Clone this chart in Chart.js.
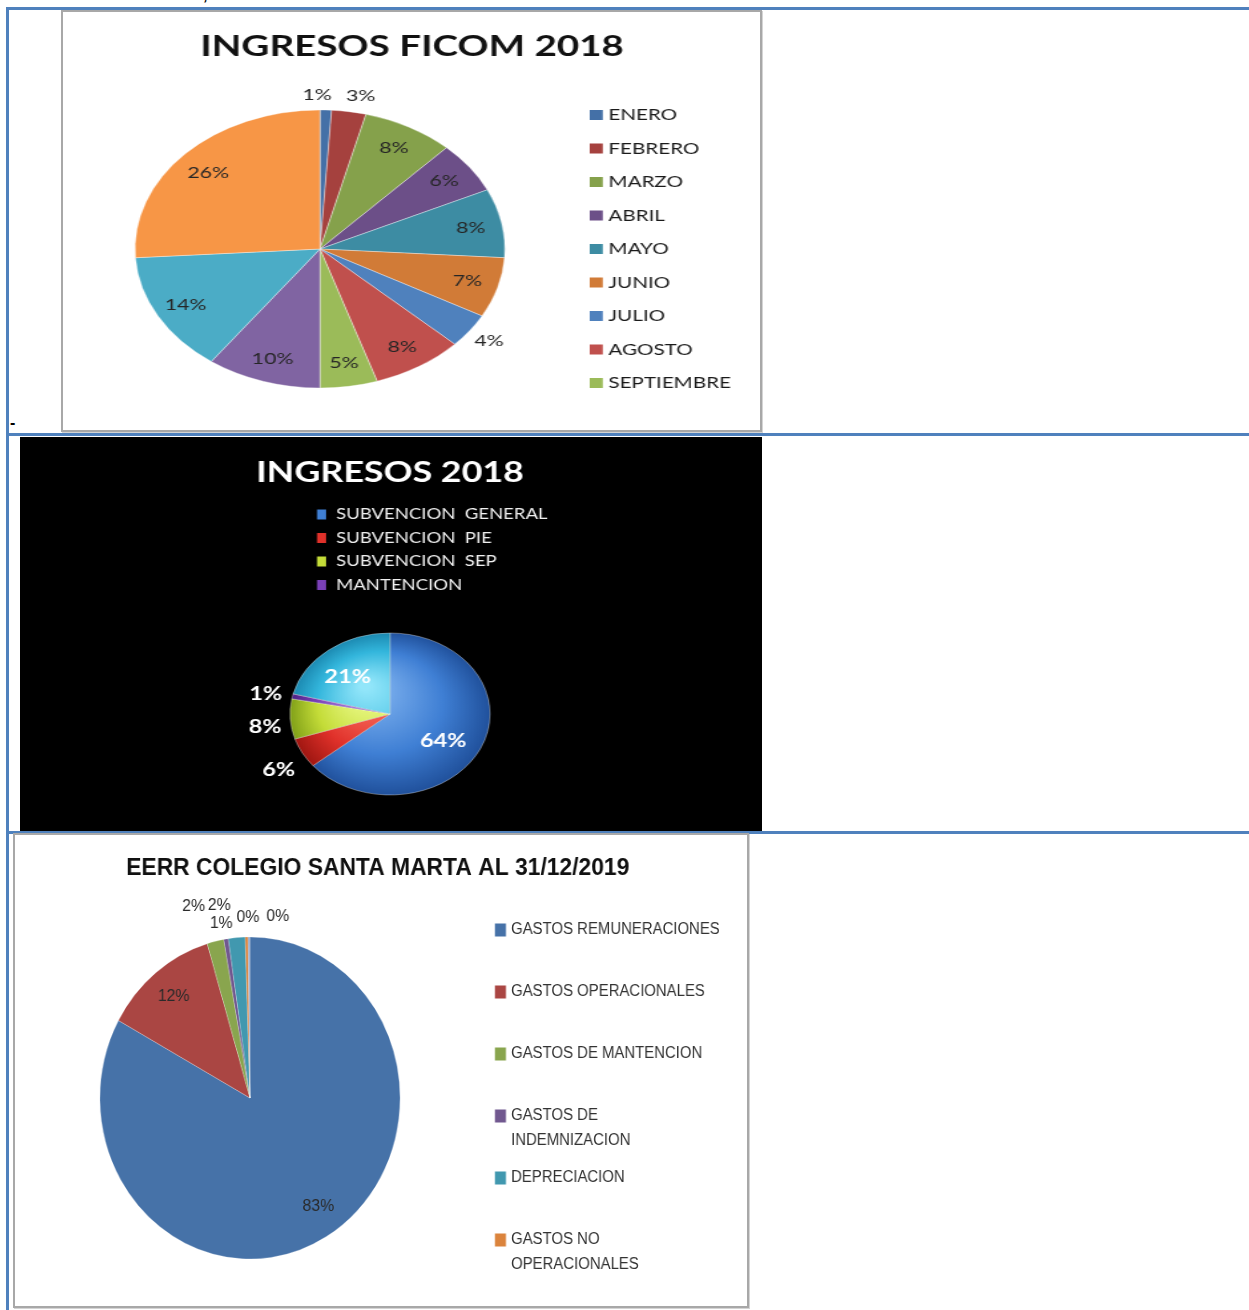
<!DOCTYPE html>
<html>
<head>
<meta charset="utf-8">
<title>Ingresos y gastos</title>
<script src="https://cdn.jsdelivr.net/npm/chart.js@4.4.1/dist/chart.umd.min.js"></script>
<style>
  html, body { margin: 0; padding: 0; background: #fff; }
  body { width: 1249px; height: 1310px; position: relative; overflow: hidden; }
  .rule { position: absolute; background: #4f81bd; }
  .box { position: absolute; box-sizing: border-box; }
  .framed { border: 2px solid #a8a8a8; box-shadow: 1px 1px 0 #d4d4d4; background: #fff; }
  .mark { position: absolute; font: bold 16px "Liberation Sans", sans-serif; color: #000; }
</style>
</head>
<body>
<div class="rule" style="left:6px;top:7px;width:1243px;height:3px"></div>
<div class="rule" style="left:6px;top:7px;width:3px;height:1303px"></div>
<div class="rule" style="left:6px;top:433px;width:1243px;height:3px"></div>
<div class="rule" style="left:6px;top:831px;width:1243px;height:3px"></div>
<span class="mark" style="left:203px;top:-14px">,</span>
<span class="mark" style="left:10px;top:414px">-</span>

<div class="box framed" style="left:61px;top:10px;width:701px;height:422px">
  <canvas id="chartFicom" width="524" height="418" style="width:697px;height:418px"></canvas>
</div>
<div class="box" style="left:20px;top:437px;width:742px;height:394px;background:#000">
  <canvas id="chartIngresos" width="601" height="394" style="width:742px;height:394px"></canvas>
</div>
<div class="box framed" style="left:13px;top:833px;width:736px;height:475px">
  <canvas id="chartEerr" width="785" height="471" style="width:732px;height:471px"></canvas>
</div>

<script>
// --- INGRESOS FICOM 2018 (share per month, %) ---
const ficomMonths = ['ENERO', 'FEBRERO', 'MARZO', 'ABRIL', 'MAYO', 'JUNIO', 'JULIO', 'AGOSTO', 'SEPTIEMBRE', 'OCTUBRE', 'NOVIEMBRE', 'DICIEMBRE'];
const ficomShare = [1, 3, 8, 6, 8, 7, 4, 8, 5, 10, 14, 26];
const ficomColors = ['#4470a7', '#a5413e', '#85a14b', '#6c4f88', '#3d8ca3', '#d17b37', '#4f81bd', '#c0504d', '#9bbb59', '#8064a2', '#4bacc6', '#f79646'];

// --- INGRESOS 2018 ---
const ingresosItems = ['SUBVENCION  GENERAL', 'SUBVENCION  PIE', 'SUBVENCION  SEP', 'MANTENCION', 'OTROS'];
const ingresosShare = [64, 6, 8, 1, 21];
// base, light, dark
const ingresosColors = [
  ['#3f7fd4', '#86b8f2', '#1f4f9a'],
  ['#e0312a', '#ff7a6a', '#9c1510'],
  ['#c4dc38', '#f2ff96', '#7c9c16'],
  ['#7a40b8', '#b892e4', '#4a1f80'],
  ['#33b6dc', '#92e6fa', '#1a86ae']
];

// --- EERR COLEGIO SANTA MARTA AL 31/12/2019 ---
const eerrItems = ['GASTOS REMUNERACIONES', 'GASTOS OPERACIONALES', 'GASTOS DE MANTENCION', 'GASTOS DE INDEMNIZACION', 'DEPRECIACION', 'GASTOS NO OPERACIONALES', 'OTROS'];
const eerrShare = [83.0, 12.4, 1.8, 0.5, 1.8, 0.3, 0.2];
const eerrColors = ['#4672a8', '#aa4643', '#89a54e', '#71588f', '#4198af', '#db843d', '#93a9cf'];

// title at a fixed spot (layout padding would shift the built-in one)
const fixedTitle = {
  id: 'fixedTitle',
  afterDraw(chart, args, opts) {
    const ctx = chart.ctx;
    ctx.save();
    ctx.font = opts.font;
    ctx.fillStyle = opts.color;
    ctx.textAlign = 'center';
    ctx.textBaseline = 'middle';
    ctx.fillText(opts.text, opts.x, opts.y);
    ctx.restore();
  }
};

// percentage labels placed along each slice's mid angle
const sliceLabels = {
  id: 'sliceLabels',
  afterDatasetsDraw(chart, args, opts) {
    const ctx = chart.ctx;
    const meta = chart.getDatasetMeta(0);
    const values = chart.data.datasets[0].data;
    const total = values.reduce((a, b) => a + b, 0);
    ctx.save();
    ctx.font = opts.font;
    ctx.fillStyle = opts.color;
    ctx.textAlign = 'center';
    ctx.textBaseline = 'middle';
    meta.data.forEach((arc, i) => {
      const p = arc.getProps(['x', 'y', 'startAngle', 'endAngle', 'outerRadius'], true);
      const mid = (p.startAngle + p.endAngle) / 2;
      const f = opts.outside.includes(i) ? opts.outFactor : opts.inFactor;
      const off = opts.offsets[i] || [0, 0];
      const x = p.x + Math.cos(mid) * p.outerRadius * f + off[0];
      const y = p.y + Math.sin(mid) * p.outerRadius * f + off[1];
      ctx.fillText(Math.round(values[i] / total * 100) + '%', x, y);
    });
    ctx.restore();
  }
};

// simple column legend, only the first `count` entries like the original
const listLegend = {
  id: 'listLegend',
  afterDraw(chart, args, opts) {
    const ctx = chart.ctx;
    const labels = chart.data.labels.slice(0, opts.count);
    ctx.save();
    ctx.font = opts.font;
    ctx.textBaseline = 'middle';
    ctx.textAlign = 'left';
    labels.forEach((label, i) => {
      const y = opts.y + i * opts.step;
      ctx.fillStyle = opts.colors[i];
      ctx.fillRect(opts.x, y - opts.boxH / 2, opts.boxW, opts.boxH);
      ctx.fillStyle = opts.color;
      const cut = (opts.breaks || {})[i];
      const words = label.split(' ');
      const lines = cut ? [words.slice(0, cut).join(' '), words.slice(cut).join(' ')] : [label];
      lines.forEach((line, k) => ctx.fillText(line, opts.textX, y + k * opts.lineH));
    });
    ctx.restore();
  }
};

new Chart(document.getElementById('chartFicom'), {
  type: 'pie',
  data: {
    labels: ficomMonths,
    datasets: [{
      data: ficomShare,
      backgroundColor: ficomColors,
      borderColor: 'rgba(255,255,255,0.45)',
      borderWidth: 0.8,
      radius: 139
    }]
  },
  options: {
    responsive: false,
    animation: false,
    layout: { padding: { top: 66, bottom: 10, left: 10, right: 147.6 } },
    plugins: {
      legend: { display: false },
      tooltip: { enabled: false },
      title: { display: false },
      fixedTitle: {
        text: 'INGRESOS FICOM 2018',
        font: 'bold 29px Lato',
        color: '#111',
        x: 262.4, y: 35
      },
      sliceLabels: {
        font: '16px Lato',
        color: '#262626',
        inFactor: 0.83,
        outFactor: 1.13,
        outside: [0, 1, 6],
        offsets: [[-7, 3], [6, 2], [0, 0], [0, 0], [0, 0], [0, 0], [0, 0], [0, 0], [0, 0], [0, 0], [0, 0], [0, 3]]
      },
      listLegend: {
        count: 9,
        colors: ficomColors,
        x: 396, boxW: 9.8, boxH: 10,
        textX: 410, y: 103, step: 33.5, lineH: 0,
        font: '15.5px Lato',
        color: '#1a1a1a'
      }
    }
  },
  plugins: [sliceLabels, listLegend, fixedTitle]
});

const ingresosRadius = 81;
new Chart(document.getElementById('chartIngresos'), {
  type: 'pie',
  data: {
    labels: ingresosItems,
    datasets: [{
      data: ingresosShare,
      backgroundColor: (context) => {
        const c = ingresosColors[context.dataIndex];
        const area = context.chart.chartArea;
        if (!area) return c[0];
        const cx = (area.left + area.right) / 2;
        const cy = (area.top + area.bottom) / 2;
        const r = ingresosRadius;
        const g = context.chart.ctx.createRadialGradient(cx - r * 0.25, cy - r * 0.35, r * 0.05, cx, cy, r * 1.02);
        g.addColorStop(0, c[1]);
        g.addColorStop(0.6, c[0]);
        g.addColorStop(1, c[2]);
        return g;
      },
      borderColor: 'rgba(255,255,255,0.35)',
      borderWidth: 1,
      radius: ingresosRadius
    }]
  },
  options: {
    responsive: false,
    animation: false,
    layout: { padding: { top: 170, bottom: 10, left: 0, right: 1.6 } },
    plugins: {
      legend: { display: false },
      tooltip: { enabled: false },
      title: { display: false },
      fixedTitle: {
        text: 'INGRESOS 2018',
        font: 'bold 29px Lato',
        color: '#ffffff',
        x: 299.7, y: 35.5
      },
      sliceLabels: {
        font: 'bold 19px Lato',
        color: '#ffffff',
        inFactor: 0.63,
        outFactor: 1.3,
        outside: [1, 2, 3],
        offsets: [[-3, 5], [2, 5], [4, 6], [2, 3], [-3, 3]]
      },
      listLegend: {
        count: 4,
        colors: ingresosColors.map(c => c[0]),
        x: 240.6, boxW: 7.3, boxH: 10,
        textX: 256, y: 77.5, step: 23.5, lineH: 0,
        font: '15px Lato',
        color: '#f0f0f0'
      }
    }
  },
  plugins: [sliceLabels, listLegend, fixedTitle]
});

new Chart(document.getElementById('chartEerr'), {
  type: 'pie',
  data: {
    labels: eerrItems,
    datasets: [{
      data: eerrShare,
      backgroundColor: eerrColors,
      borderColor: 'rgba(255,255,255,0.4)',
      borderWidth: 0.6,
      radius: 161
    }]
  },
  options: {
    responsive: false,
    animation: false,
    layout: { padding: { top: 65, bottom: 10, left: 10, right: 291 } },
    plugins: {
      legend: { display: false },
      tooltip: { enabled: false },
      title: { display: false },
      fixedTitle: {
        text: 'EERR COLEGIO SANTA MARTA AL 31/12/2019',
        font: 'bold 24.5px "Liberation Sans"',
        color: '#111',
        x: 389, y: 33
      },
      sliceLabels: {
        font: '17px "Liberation Sans"',
        color: '#2a2a2a',
        inFactor: 0.81,
        outFactor: 1.2,
        outside: [2, 3, 4, 5, 6],
        offsets: [[7, -4], [0, 0], [-16, -4], [0, 16], [-16, 0], [2, 12], [31, 12]]
      },
      listLegend: {
        count: 6,
        colors: eerrColors,
        x: 514.7, boxW: 11.8, boxH: 13,
        textX: 532, y: 95, step: 62, lineH: 24.5,
        breaks: { 3: 2, 5: 2 },
        font: '16px "Liberation Sans"',
        color: '#333333'
      }
    }
  },
  plugins: [sliceLabels, listLegend, fixedTitle]
});
</script>
</body>
</html>
